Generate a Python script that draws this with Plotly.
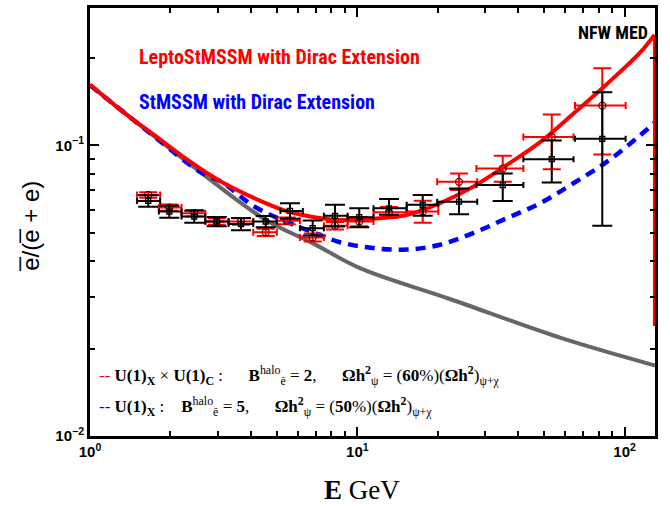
import plotly.graph_objects as go

# ---------------- data ----------------
# background (gray) curve
bg_E = [1.0, 1.677, 2.579, 4.516, 6.83, 10.23, 22.2, 57.3, 130.0]
bg_v = [0.161, 0.1102, 0.0811, 0.0556, 0.0460, 0.0378, 0.0296, 0.0218, 0.01748]

# LeptoStMSSM (red solid)
red_E = [1.0, 1.31, 1.746, 2.326, 3.099, 4.133, 5.505, 7.33, 8.47, 10.23, 15.30,
         20.39, 27.1, 36.2, 48.3, 64.1, 85.7, 114.2, 129.3]
red_v = [0.162, 0.1317, 0.1082, 0.0889, 0.0749, 0.0657, 0.0592, 0.0561, 0.0554,
         0.0556, 0.0576, 0.0632, 0.0720, 0.0855, 0.1026, 0.1282, 0.1623, 0.2084, 0.240]
# sharp drop of the red curve at the end point
red_drop_E = [129.3, 129.3]
red_drop_v = [0.240, 0.0239]

# StMSSM (blue dashed)
blue_E = [1.0, 1.677, 2.579, 3.099, 4.133, 5.505, 7.33, 8.615, 11.45, 15.30, 20.39,
          27.1, 36.2, 48.3, 64.1, 85.7, 114.2, 130.0]
blue_v = [0.161, 0.1102, 0.0811, 0.0749, 0.0615, 0.0543, 0.0490, 0.0464, 0.0443,
          0.0438, 0.0455, 0.0499, 0.0561, 0.0632, 0.0739, 0.0877, 0.1082, 0.1201]

# data set 1 (red circles)
d1_E = [1.652, 1.98, 2.455, 2.979, 3.672, 4.543, 5.443, 6.81, 8.25, 10.17,
        13.14, 17.57, 24.02, 35.0, 53.4, 82.5]
d1_Elo = [1.50, 1.81, 2.20, 2.70, 3.30, 4.08, 5.00, 6.10, 7.50, 9.20,
          11.5, 15.3, 19.9, 27.9, 41.8, 65.2]
d1_Ehi = [1.83, 2.20, 2.70, 3.30, 4.08, 5.00, 6.10, 7.50, 9.20, 11.5,
          15.3, 20.1, 28.1, 41.8, 64.4, 100.9]
d1_v = [0.0675, 0.0611, 0.0584, 0.0547, 0.0547, 0.0502, 0.0550, 0.0482, 0.0529,
        0.0547, 0.0588, 0.0592, 0.0749, 0.0832, 0.1068, 0.137]
d1_up = [0.0015, 0.0015, 0.0015, 0.0014, 0.0014, 0.0014, 0.0015, 0.0015, 0.0016,
         0.0020, 0.0025, 0.0053, 0.0051, 0.0088, 0.0208, 0.047]
d1_dn = [0.0015, 0.0015, 0.0015, 0.0014, 0.0014, 0.0014, 0.0015, 0.0015, 0.0016,
         0.0020, 0.0025, 0.0050, 0.0047, 0.0083, 0.0240, 0.044]

# data set 2 (black squares)
d2_E = [1.652, 1.98, 2.455, 2.979, 3.672, 4.543, 5.6, 6.81, 8.25, 10.17,
        13.14, 17.57, 24.02, 35.0, 53.4, 82.5]
d2_v = [0.0644, 0.0592, 0.0569, 0.0547, 0.0536, 0.0547, 0.0595, 0.0519, 0.0572,
        0.0566, 0.0607, 0.0624, 0.0640, 0.0730, 0.0896, 0.1053]
d2_up = [0.0029, 0.0028, 0.0027, 0.0020, 0.0026, 0.0024, 0.0037, 0.0032, 0.0052,
         0.0041, 0.0047, 0.0051, 0.0071, 0.0070, 0.0144, 0.047]
d2_dn = [0.0029, 0.0028, 0.0027, 0.0020, 0.0026, 0.0024, 0.0036, 0.0029, 0.0046,
         0.0043, 0.0030, 0.0051, 0.0061, 0.0086, 0.0151, 0.0524]

x_tickvals = [1, 10, 100]
x_ticktext = ["<b>10</b><sup><b>0</b></sup>", "<b>10</b><sup><b>1</b></sup>", "<b>10</b><sup><b>2</b></sup>"]
y_tickvals = [0.01, 0.1]
y_ticktext = ["<b>10</b><sup><b>\u22122</b></sup>", "<b>10</b><sup><b>\u22121</b></sup>"]
x_minor = [2, 3, 4, 5, 6, 7, 8, 9, 20, 30, 40, 50, 60, 70, 80, 90]
y_minor = [0.02, 0.03, 0.04, 0.05, 0.06, 0.07, 0.08, 0.09, 0.2, 0.3]

# ---------------- figure ----------------
fig = go.Figure()

fig.add_trace(go.Scatter(x=bg_E, y=bg_v, mode="lines",
                         line=dict(color="#666666", width=4, shape="spline", smoothing=1.0),
                         showlegend=False, hoverinfo="skip"))
fig.add_trace(go.Scatter(x=blue_E, y=blue_v, mode="lines",
                         line=dict(color="#0000ff", width=4.5, dash="10px,7px", shape="spline", smoothing=1.0),
                         showlegend=False, hoverinfo="skip"))
fig.add_trace(go.Scatter(x=red_E, y=red_v, mode="lines",
                         line=dict(color="#ff0000", width=4, shape="spline", smoothing=1.0),
                         showlegend=False, hoverinfo="skip"))
fig.add_trace(go.Scatter(x=red_drop_E, y=red_drop_v, mode="lines",
                         line=dict(color="#ff0000", width=3),
                         showlegend=False, hoverinfo="skip"))

d1_xp = [h - e for h, e in zip(d1_Ehi, d1_E)]
d1_xm = [e - l for l, e in zip(d1_Elo, d1_E)]
fig.add_trace(go.Scatter(
    x=d1_E, y=d1_v, mode="markers",
    marker=dict(symbol="circle-open", size=7, color="#7a0000", line=dict(width=1.3)),
    error_y=dict(type="data", symmetric=False, array=d1_up, arrayminus=d1_dn,
                 color="#ff0000", thickness=2, width=9),
    error_x=dict(type="data", symmetric=False, array=d1_xp, arrayminus=d1_xm,
                 color="#ff0000", thickness=2, width=3.5),
    showlegend=False))

fig.add_trace(go.Scatter(
    x=d2_E, y=d2_v, mode="markers",
    marker=dict(symbol="square-open", size=5, color="#000000", line=dict(width=1.3)),
    error_y=dict(type="data", symmetric=False, array=d2_up, arrayminus=d2_dn,
                 color="#000000", thickness=2, width=10),
    error_x=dict(type="data", symmetric=False, array=d1_xp, arrayminus=d1_xm,
                 color="#000000", thickness=2, width=3),
    showlegend=False))

narrow = "Liberation Sans Narrow, Arial Narrow, Roboto Condensed, Liberation Sans"
fig.add_annotation(xref="paper", yref="paper", x=0.083, y=0.885, xanchor="left", yanchor="middle",
                   text="<b>LeptoStMSSM with Dirac Extension</b>", showarrow=False,
                   font=dict(family=narrow, size=20, color="#ff0000"))
fig.add_annotation(xref="paper", yref="paper", x=0.083, y=0.78, xanchor="left", yanchor="middle",
                   text="<b>StMSSM with Dirac Extension</b>", showarrow=False,
                   font=dict(family=narrow, size=20, color="#0000ff"))
fig.add_annotation(xref="paper", yref="paper", x=0.992, y=0.942, xanchor="right", yanchor="middle",
                   text="<b>NFW MED</b>", showarrow=False,
                   font=dict(family=narrow, size=18, color="#000000"))

sp = "\u00a0"
line1 = ("<span style='color:#ff0000'>--</span>" + sp + "<b>U(1)</b><sub><b>X</b></sub>" + sp + "×" + sp
         + "<b>U(1)</b><sub><b>C</b></sub>" + sp + ":"
         + sp * 6 + "<b>B</b><sup>halo</sup><sub>ē</sub>" + sp + "=" + sp + "<b>2</b>," + sp * 6
         + "<b>Ωh</b><sup><b>2</b></sup><sub>ψ</sub>" + sp + "=" + sp
         + "(<b>60</b>%)(<b>Ωh</b><sup><b>2</b></sup>)<sub>ψ+χ</sub>")
line2 = ("<span style='color:#0000ff'>--</span>" + sp + "<b>U(1)</b><sub><b>X</b></sub>" + sp + ":"
         + sp * 4 + "<b>B</b><sup>halo</sup><sub>ē</sub>" + sp + "=" + sp + "<b>5</b>," + sp * 6
         + "<b>Ωh</b><sup><b>2</b></sup><sub>ψ</sub>" + sp + "=" + sp
         + "(<b>50</b>%)(<b>Ωh</b><sup><b>2</b></sup>)<sub>ψ+χ</sub>")
serif = "Liberation Serif, DejaVu Serif, serif"
fig.add_annotation(xref="paper", yref="paper", x=0.0124, y=0.1415, xanchor="left", yanchor="middle",
                   text=line1, showarrow=False, font=dict(family=serif, size=17, color="#000000"))
fig.add_annotation(xref="paper", yref="paper", x=0.0124, y=0.0696, xanchor="left", yanchor="middle",
                   text=line2, showarrow=False, font=dict(family=serif, size=17, color="#000000"))

# axis titles as annotations
fig.add_annotation(xref="paper", yref="paper", x=0.481, y=-0.125, xanchor="center", yanchor="middle",
                   text="<b>E</b>" + sp + "GeV", showarrow=False,
                   font=dict(family=serif, size=27, color="#000000"))
fig.add_annotation(xref="paper", yref="paper", x=-0.105, y=0.49, xanchor="center", yanchor="middle",
                   text="e\u0305/(e\u0305 + e)", textangle=-90, showarrow=False,
                   font=dict(family="Liberation Sans, DejaVu Sans", size=24, color="#000000"))

tickfont = dict(family="Liberation Sans Narrow, Liberation Sans, Arial", size=15, color="#000000")
fig.update_xaxes(type="log", range=[0, 2.1137], tickvals=x_tickvals, ticktext=x_ticktext,
                 ticks="inside", ticklen=9, tickwidth=2, tickcolor="#000000",
                 minor=dict(tickvals=x_minor, ticks="inside", ticklen=5, tickwidth=1.5, tickcolor="#000000"),
                 showline=True, linewidth=3, linecolor="#000000", mirror="allticks",
                 showgrid=False, zeroline=False, tickfont=tickfont)
fig.update_yaxes(type="log", range=[-2, -0.5275], tickvals=y_tickvals, ticktext=y_ticktext,
                 ticks="inside", ticklen=9, tickwidth=2, tickcolor="#000000",
                 minor=dict(tickvals=y_minor, ticks="inside", ticklen=5, tickwidth=1.5, tickcolor="#000000"),
                 showline=True, linewidth=3, linecolor="#000000", mirror="allticks",
                 showgrid=False, zeroline=False, tickfont=tickfont)

fig.update_layout(width=670, height=508, margin=dict(l=90, r=15, t=5, b=72, pad=0),
                  plot_bgcolor="#ffffff", paper_bgcolor="#ffffff", showlegend=False)

fig.write_html("out.html")
